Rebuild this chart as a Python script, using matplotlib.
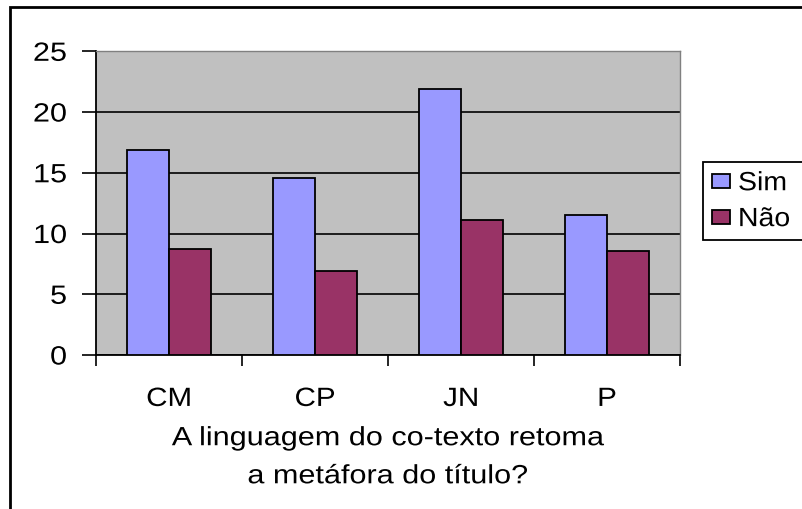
import matplotlib
matplotlib.use("Agg")
import matplotlib.pyplot as plt
import numpy as np
from matplotlib.patches import Rectangle
from matplotlib.patheffects import AbstractPathEffect
from matplotlib.transforms import Affine2D

categories = ["CM", "CP", "JN", "P"]
series_names = ["Sim", "Não"]
sim = [16.9, 14.6, 21.9, 11.5]
nao = [8.7, 6.9, 11.1, 8.6]
y_ticks = [0, 5, 10, 15, 20, 25]
x_title = "A linguagem do co-texto retoma\na metáfora do título?"

W, H = 802, 510
FONT_SIZE = 19


class HStretch(AbstractPathEffect):
    """Widen text glyphs horizontally about a chosen anchor."""

    def __init__(self, sx, anchor="center"):
        super().__init__()
        self.sx = sx
        self.anchor = anchor

    def draw_path(self, renderer, gc, tpath, affine, rgbFace=None):
        ext = tpath.get_extents(affine)
        if self.anchor == "right":
            cx = ext.x1
        elif self.anchor == "left":
            cx = ext.x0
        else:
            cx = (ext.x0 + ext.x1) / 2
        stretch = Affine2D().translate(-cx, 0).scale(self.sx, 1).translate(cx, 0)
        renderer.draw_path(gc, tpath, affine + stretch, rgbFace)


plt.rcParams["font.family"] = "Liberation Sans"

fig = plt.figure(figsize=(W / 100, H / 100), dpi=100)
ax = fig.add_axes([96 / W, 1 - 356 / H, (680 - 96) / W, (356 - 52.3) / H])

x = np.arange(len(categories))
width = 0.286

ax.bar(x - width / 2, sim, width, color="#9999FF", edgecolor="black",
       linewidth=1.3, label=series_names[0], zorder=3)
ax.bar(x + width / 2, nao, width, color="#993366", edgecolor="black",
       linewidth=1.3, label=series_names[1], zorder=3)

ax.set_facecolor("#C0C0C0")
ax.set_xlim(-0.5, len(categories) - 0.5)
ax.set_ylim(0, 25)

ax.set_yticks(y_ticks)
ax.yaxis.grid(True, color="black", linewidth=1.2)
ax.set_axisbelow(True)
ax.tick_params(axis="y", length=10, width=1.2, pad=11, labelsize=FONT_SIZE)

# category boundaries carry the tick marks, centres carry the labels
ax.set_xticks(np.arange(len(categories) + 1) - 0.5)
ax.set_xticklabels([])
ax.set_xticks(x, minor=True)
ax.set_xticklabels(categories, minor=True)
ax.tick_params(axis="x", which="major", length=8, width=1.2)
ax.tick_params(axis="x", which="minor", length=0, pad=23, labelsize=FONT_SIZE)

for side in ("left", "bottom"):
    ax.spines[side].set_color("black")
    ax.spines[side].set_linewidth(1.3)
for side in ("top", "right"):
    ax.spines[side].set_color("#808080")
    ax.spines[side].set_linewidth(1.0)

ax.set_xlabel(x_title, fontsize=FONT_SIZE, labelpad=11, linespacing=1.74)

plt.setp(ax.get_yticklabels(), path_effects=[HStretch(1.16, "right")])
plt.setp(ax.get_xticklabels(minor=True), path_effects=[HStretch(1.12)])
ax.xaxis.label.set_path_effects([HStretch(1.16)])

# legend box runs past the right edge of the figure
leg = ax.legend(
    loc="upper left",
    bbox_to_anchor=(703 / W, 1 - 242 / H, 120 / W, 79 / H),
    bbox_transform=fig.transFigure,
    mode="expand",
    fontsize=FONT_SIZE,
    fancybox=False,
    framealpha=1,
    edgecolor="black",
    borderpad=0.35,
    labelspacing=0.45,
    handlelength=0.68,
    handleheight=0.45,
    handletextpad=0.3,
    borderaxespad=0,
)
leg.get_frame().set_linewidth(1.3)
for t in leg.get_texts():
    t.set_path_effects([HStretch(1.08, "left")])

# outer chart border, running off the right and bottom edges
fig.add_artist(Rectangle((10 / W, -0.1), 1.2, 1.1 - 8 / H, transform=fig.transFigure,
                         fill=False, edgecolor="black", linewidth=2, clip_on=False))

fig.savefig("out.png", dpi=100)
